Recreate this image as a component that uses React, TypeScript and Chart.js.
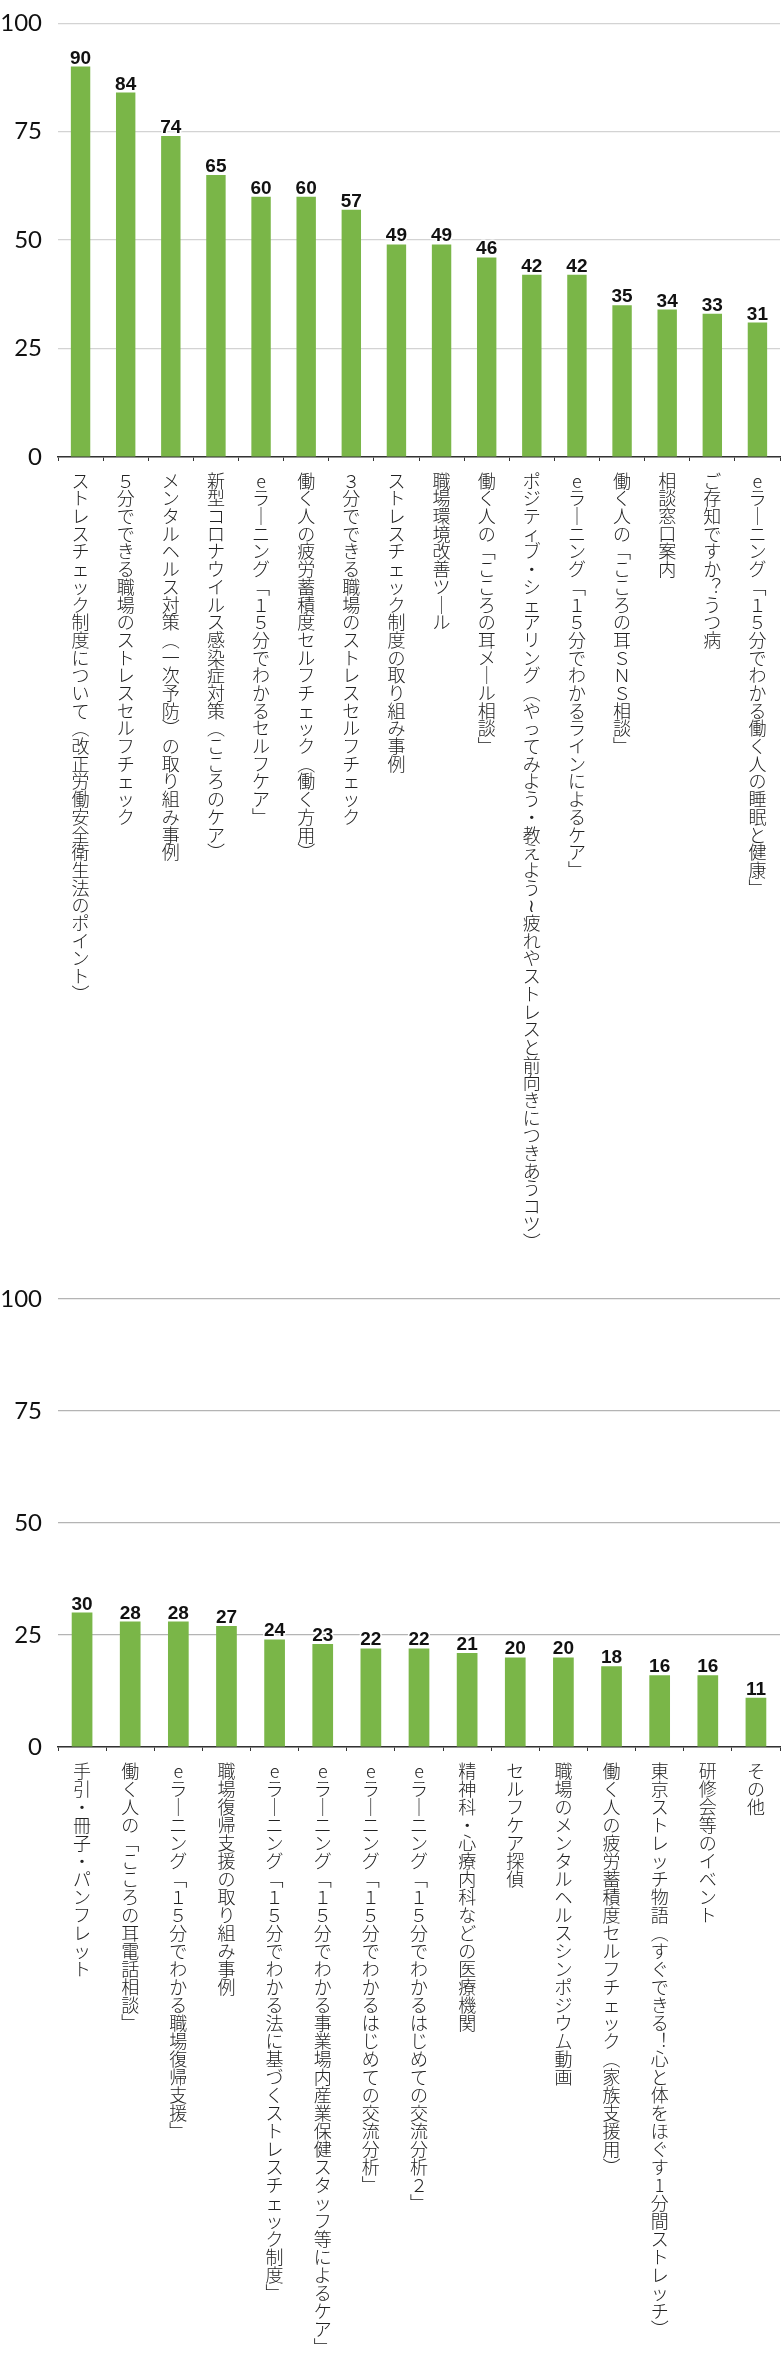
import React, { useEffect, useRef } from 'react';
import { Chart, registerables } from 'chart.js';

Chart.register(...registerables);

// upper chart
const topLabels = [
  'ストレスチェック制度について（改正労働安全衛生法のポイント）',
  '５分でできる職場のストレスセルフチェック',
  'メンタルヘルス対策（一次予防）の取り組み事例',
  '新型コロナウイルス感染症対策（こころのケア）',
  'eラーニング「１５分でわかるセルフケア」',
  '働く人の疲労蓄積度セルフチェック（働く方用）',
  '３分でできる職場のストレスセルフチェック',
  'ストレスチェック制度の取り組み事例',
  '職場環境改善ツール',
  '働く人の「こころの耳メール相談」',
  'ポジティブ・シェアリング（やってみよう・教えよう～疲れやストレスと前向きにつきあうコツ）',
  'eラーニング「１５分でわかるラインによるケア」',
  '働く人の「こころの耳ＳＮＳ相談」',
  '相談窓口案内',
  'ご存知ですか？うつ病',
  'eラーニング「１５分でわかる働く人の睡眠と健康」',
];
const topValues = [90, 84, 74, 65, 60, 60, 57, 49, 49, 46, 42, 42, 35, 34, 33, 31];

// lower chart
const bottomLabels = [
  '手引・冊子・パンフレット',
  '働く人の「こころの耳電話相談」',
  'eラーニング「１５分でわかる職場復帰支援」',
  '職場復帰支援の取り組み事例',
  'eラーニング「１５分でわかる法に基づくストレスチェック制度」',
  'eラーニング「１５分でわかる事業場内産業保健スタッフ等によるケア」',
  'eラーニング「１５分でわかるはじめての交流分析」',
  'eラーニング「１５分でわかるはじめての交流分析２」',
  '精神科・心療内科などの医療機関',
  'セルフケア探偵',
  '職場のメンタルヘルスシンポジウム動画',
  '働く人の疲労蓄積度セルフチェック（家族支援用）',
  '東京ストレッチ物語（すぐできる！心と体をほぐす1分間ストレッチ）',
  '研修会等のイベント',
  'その他',
];
const bottomValues = [30, 28, 28, 27, 24, 23, 22, 22, 21, 20, 20, 18, 16, 16, 11];

const yTicks = [0, 25, 50, 75, 100];

// vertical writing: swap brackets etc. for their vertical forms
const verticalForms: Record<string, string> = {
  '「': '﹁',
  '」': '﹂',
  '（': '︵',
  '）': '︶',
  'ー': '｜',
  '～': '≀',
  '！': '︕',
  '？': '︖',
};
const toVertical = (text: string) => Array.from(text).map((c) => verticalForms[c] ?? c);

const valueLabels = {
  id: 'valueLabels',
  afterDatasetsDraw(chart: any) {
    const { ctx } = chart;
    const meta = chart.getDatasetMeta(0);
    const data = chart.data.datasets[0].data as number[];
    ctx.save();
    ctx.font = 'bold 19px "Liberation Sans", Arial, sans-serif';
    ctx.textAlign = 'center';
    ctx.textBaseline = 'alphabetic';
    ctx.lineJoin = 'round';
    ctx.lineWidth = 3;
    ctx.strokeStyle = '#ffffff';
    ctx.fillStyle = '#111111';
    meta.data.forEach((bar: any, i: number) => {
      const text = String(data[i]);
      ctx.strokeText(text, bar.x, bar.y - 3);
      ctx.fillText(text, bar.x, bar.y - 3);
    });
    ctx.restore();
  },
};

type PanelProps = {
  labels: string[];
  values: number[];
  height: number;
  padTop: number;
  axisHeight: number;
  gridColor: string;
  lineHeight: number;
};

const BarPanel = ({ labels, values, height, padTop, axisHeight, gridColor, lineHeight }: PanelProps) => {
  const canvasRef = useRef<HTMLCanvasElement>(null);

  useEffect(() => {
    if (!canvasRef.current) return;
    const chart = new Chart(canvasRef.current, {
      type: 'bar',
      data: {
        labels,
        datasets: [
          {
            data: values,
            backgroundColor: '#7ab648',
            barPercentage: 0.43,
            categoryPercentage: 1,
          },
        ],
      },
      options: {
        responsive: false,
        animation: false,
        layout: { padding: { top: padTop, right: 2, left: 0, bottom: 0 } },
        plugins: {
          legend: { display: false },
          tooltip: { enabled: false },
        },
        scales: {
          x: {
            afterFit: (scale: any) => {
              scale.height = axisHeight;
            },
            grid: {
              drawOnChartArea: false,
              drawTicks: true,
              tickLength: 4,
              tickColor: '#333',
              offset: true,
            },
            border: { display: true, color: '#333', width: 1.5 },
            ticks: {
              autoSkip: false,
              maxRotation: 0,
              minRotation: 0,
              padding: 11,
              color: '#222',
              font: { family: '"Noto Sans CJK JP", sans-serif', size: 18, weight: '300', lineHeight },
              callback: (_v: any, i: number) => toVertical(labels[i]),
            },
          },
          y: {
            min: 0,
            max: 100,
            afterFit: (scale: any) => {
              scale.width = 58;
            },
            afterBuildTicks: (scale: any) => {
              scale.ticks = yTicks.map((v) => ({ value: v }));
            },
            grid: { color: gridColor, drawTicks: false, lineWidth: 1.2 },
            border: { display: false },
            ticks: {
              padding: 16,
              color: '#111',
              font: { family: 'Lato, sans-serif', size: 24, lineHeight: 0.6 },
            },
          },
        },
      },
      plugins: [valueLabels],
    });
    return () => chart.destroy();
  }, [labels, values, height, padTop, axisHeight, gridColor, lineHeight]);

  return <canvas ref={canvasRef} width={782} height={height} style={{ display: 'block' }} />;
};

const App = () => {
  useEffect(() => {
    document.body.style.margin = '0';
  }, []);

  return (
    <div style={{ width: 782, background: '#fff' }}>
      <BarPanel
        labels={topLabels}
        values={topValues}
        height={1270}
        padTop={8.5}
        axisHeight={813}
        gridColor="#d3d3d3"
        lineHeight={0.983}
      />
      <BarPanel
        labels={bottomLabels}
        values={bottomValues}
        height={1105}
        padTop={29}
        axisHeight={628}
        gridColor="#b4b4b4"
        lineHeight={1.0}
      />
    </div>
  );
};

export default App;
